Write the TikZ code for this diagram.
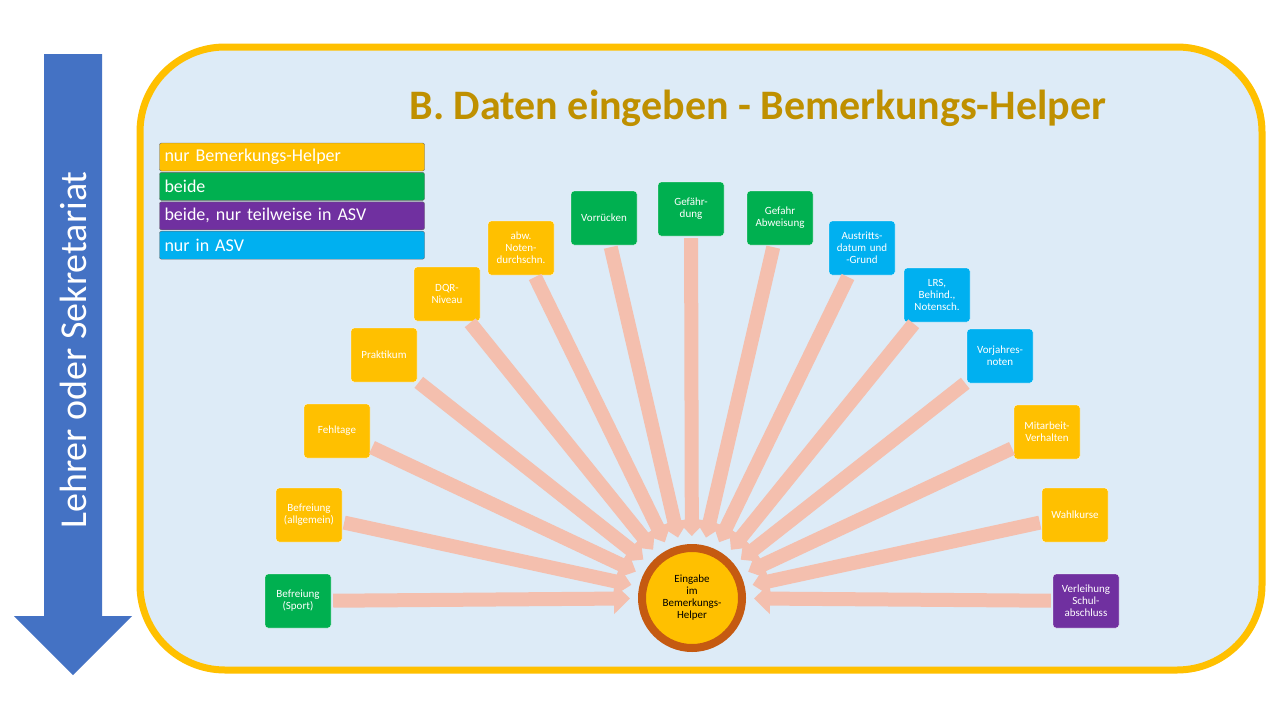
\documentclass[tikz,border=0pt]{standalone}
\usepackage{fontspec}
\setmainfont{Carlito}
\usetikzlibrary{arrows.meta,positioning}
\definecolor{gelb}{HTML}{FFC000}
\definecolor{gruen}{HTML}{00B050}
\definecolor{lila}{HTML}{7030A0}
\definecolor{hblau}{HTML}{00B0F0}
\definecolor{dblau}{HTML}{4472C4}
\definecolor{titel}{HTML}{BF9000}
\definecolor{pfeil}{HTML}{F4BFAE}
\definecolor{hgrund}{HTML}{DDEBF7}
\definecolor{rand}{HTML}{C55A11}
\begin{document}
\begin{tikzpicture}[x=1pt,y=-1pt]
  % stile
  \tikzset{
    feld/.style={draw=white, thin, rounded corners=3pt, minimum width=66pt, minimum height=54pt,
      text width=62pt, align=center, text=white, font=\fontsize{11}{12}\selectfont, inner sep=1pt},
    legende/.style={draw=black!60, thin, rounded corners=2pt, minimum width=265pt, minimum height=28pt,
      text width=255pt, align=left, text=white, font=\fontsize{18}{20}\selectfont, inner sep=4pt},
    strahl/.style={pfeil, line width=14pt, -{Triangle[width=30pt,length=16pt]}, shorten >=8pt, shorten <=2pt}
  }
  \useasboundingbox (0,0) rectangle (1280,720);
  \fill[white] (0,0) rectangle (1280,720);
  % linker pfeil
  \fill[dblau] (44,54) -- (102,54) -- (102,616) -- (132,616) -- (73,675) -- (14,616) -- (44,616) -- cycle;
  \node[rotate=90, text=white, font=\fontsize{38}{40}\selectfont] (rolle) at (73,350) {Lehrer oder Sekretariat};
  % rahmen
  \draw[gelb, line width=7pt, fill=hgrund, rounded corners=85pt] (140,47) rectangle (1262,670);
  \node[text=titel, font=\bfseries\fontsize{42}{44}\selectfont] (kopf) at (758,108) {B. Daten eingeben - Bemerkungs-Helper};
  % legende
  \node[legende, fill=gelb] (l1) at (292,157) {nur Bemerkungs-Helper};
  \node[legende, fill=gruen, below=1pt of l1] (l2) {beide};
  \node[legende, fill=lila, below=1pt of l2] (l3) {beide, nur teilweise in ASV};
  \node[legende, fill=hblau, below=1pt of l3] (l4) {nur in ASV};
  % mitte
  \node[circle, fill=gelb, draw=rand, line width=8pt, minimum size=100pt, text width=70pt, align=center,
    font=\fontsize{11}{12}\selectfont, inner sep=0pt] (mitte) at (692,598) {Eingabe\\im\\Bemerkungs-\\Helper};
  % felder
  \node[feld, fill=gruen] (b1) at (298,601) {Befreiung\\(Sport)};
  \node[feld, fill=gelb] (b2) at (309,515) {Befreiung\\(allgemein)};
  \node[feld, fill=gelb] (b3) at (337,431) {Fehltage};
  \node[feld, fill=gelb] (b4) at (384,355) {Praktikum};
  \node[feld, fill=gelb] (b5) at (447,294) {DQR-\\Niveau};
  \node[feld, fill=gelb] (b6) at (521,248) {abw.\\Noten-\\durchschn.};
  \node[feld, fill=gruen] (b7) at (604,218) {Vorrücken};
  \node[feld, fill=gruen] (b8) at (691,209) {Gefähr-\\dung};
  \node[feld, fill=gruen] (b9) at (780,218) {Gefahr\\Abweisung};
  \node[feld, fill=hblau] (b10) at (862,248) {Austritts-\\datum und\\-Grund};
  \node[feld, fill=hblau] (b11) at (937,295) {LRS,\\Behind.,\\Notensch.};
  \node[feld, fill=hblau] (b12) at (1000,356) {Vorjahres-\\noten};
  \node[feld, fill=gelb] (b13) at (1047,432) {Mitarbeit-\\Verhalten};
  \node[feld, fill=gelb] (b14) at (1075,515) {Wahlkurse};
  \node[feld, fill=lila] (b15) at (1086,601) {Verleihung\\Schul-\\abschluss};
  % strahlen
  \begin{scope}[on background layer/.style={}]
    \foreach \b in {b1,b2,b3,b4,b5,b6,b7,b8,b9,b10,b11,b12,b13,b14,b15}
      \draw[strahl] (\b) -- (mitte);
  \end{scope}
\end{tikzpicture}
\end{document}
